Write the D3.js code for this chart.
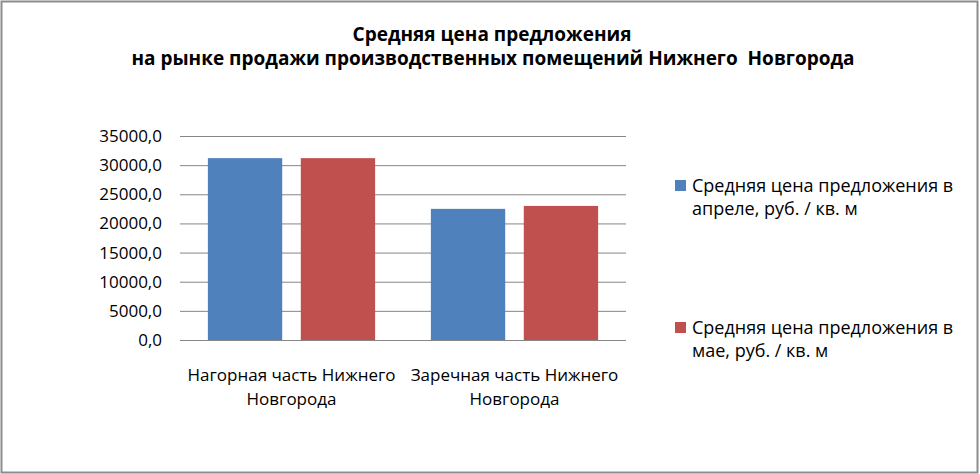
<!DOCTYPE html>
<html lang="ru">
  <head>
    <meta charset="UTF-8" />
    <title>Средняя цена предложения</title>
    <style>
      body { margin: 0; background: #fff; }
      text { font-family: "Open Sans", "Noto Sans", sans-serif; fill: #000; }
    </style>
  </head>
  <body>
    <svg id="svg" width="980" height="474"></svg>

    <script src="https://cdn.jsdelivr.net/npm/d3@7"></script>
    <script>
      const categories = [
        ["Нагорная часть Нижнего", "Новгорода"],
        ["Заречная часть Нижнего", "Новгорода"],
      ];
      const seriesNames = [
        ["Средняя цена предложения в", "апреле, руб. / кв. м"],
        ["Средняя цена предложения в", "мае, руб. / кв. м"],
      ];
      const aprilValues = [31200, 22500];
      const mayValues = [31200, 23000];
      const yTicks = [0, 5000, 10000, 15000, 20000, 25000, 30000, 35000];
      const colors = ["#4f81bd", "#c0504d"];

      const PLOT = { left: 180, right: 626, top: 136, bottom: 340 };
      const FONT = 17;

      const svg = d3.select("#svg");

      // outer border
      svg
        .append("rect")
        .attr("x", 1.5)
        .attr("y", 1.5)
        .attr("width", 976)
        .attr("height", 471)
        .attr("fill", "none")
        .attr("stroke", "#8c8c8c")
        .attr("stroke-width", 2);

      // title
      const title = svg
        .append("text")
        .attr("text-anchor", "middle")
        .attr("font-weight", "bold")
        .attr("font-size", 19)
        .attr("xml:space", "preserve");
      title.append("tspan").attr("x", 492).attr("y", 41).text("Средняя цена предложения");
      title
        .append("tspan")
        .attr("x", 493)
        .attr("y", 65)
        .text("на рынке продажи производственных помещений Нижнего  Новгорода");

      const x0 = d3
        .scaleBand()
        .domain(d3.range(categories.length))
        .range([PLOT.left, PLOT.right])
        .paddingInner(0.25)
        .paddingOuter(0.125);
      const x1 = d3.scaleBand().domain([0, 1]).range([0, x0.bandwidth()]).paddingInner(0.2);
      const y = d3.scaleLinear().domain([0, 35000]).range([PLOT.bottom, PLOT.top]);

      // gridlines + y labels
      const yAxis = d3
        .axisLeft(y)
        .tickValues(yTicks)
        .tickSize(-(PLOT.right - PLOT.left))
        .tickPadding(18)
        .tickFormat((d) => d3.format(".1f")(d).replace(".", ","));
      const yg = svg
        .append("g")
        .attr("transform", `translate(${PLOT.left},0)`)
        .call(yAxis);
      yg.select(".domain").remove();
      yg.selectAll(".tick line").attr("stroke", "#868686").attr("stroke-width", 1);
      yg.selectAll(".tick text")
        .attr("font-size", FONT)
        .attr("font-family", null)
        .attr("fill", "#000");

      // bars
      const series = [aprilValues, mayValues];
      series.forEach((vals, s) => {
        svg
          .append("g")
          .selectAll("rect")
          .data(vals)
          .enter()
          .append("rect")
          .attr("x", (d, i) => x0(i) + x1(s))
          .attr("y", (d) => y(d))
          .attr("width", x1.bandwidth())
          .attr("height", (d) => y(0) - y(d))
          .attr("fill", colors[s]);
      });

      // category labels
      categories.forEach((lines, i) => {
        const cx = x0(i) + x0.bandwidth() / 2;
        const t = svg.append("text").attr("text-anchor", "middle").attr("font-size", FONT);
        lines.forEach((l, k) => {
          t.append("tspan").attr("x", cx).attr("y", 381 + k * 24).text(l);
        });
      });

      // legend
      const legendY = [180, 322];
      seriesNames.forEach((lines, s) => {
        const g = svg.append("g").attr("transform", `translate(675,${legendY[s]})`);
        g.append("rect").attr("width", 11).attr("height", 11).attr("fill", colors[s]);
        const t = g.append("text").attr("font-size", 18);
        lines.forEach((l, k) => {
          t.append("tspan").attr("x", 17).attr("y", 12 + k * 23).text(l);
        });
      });
    </script>
  </body>
</html>
